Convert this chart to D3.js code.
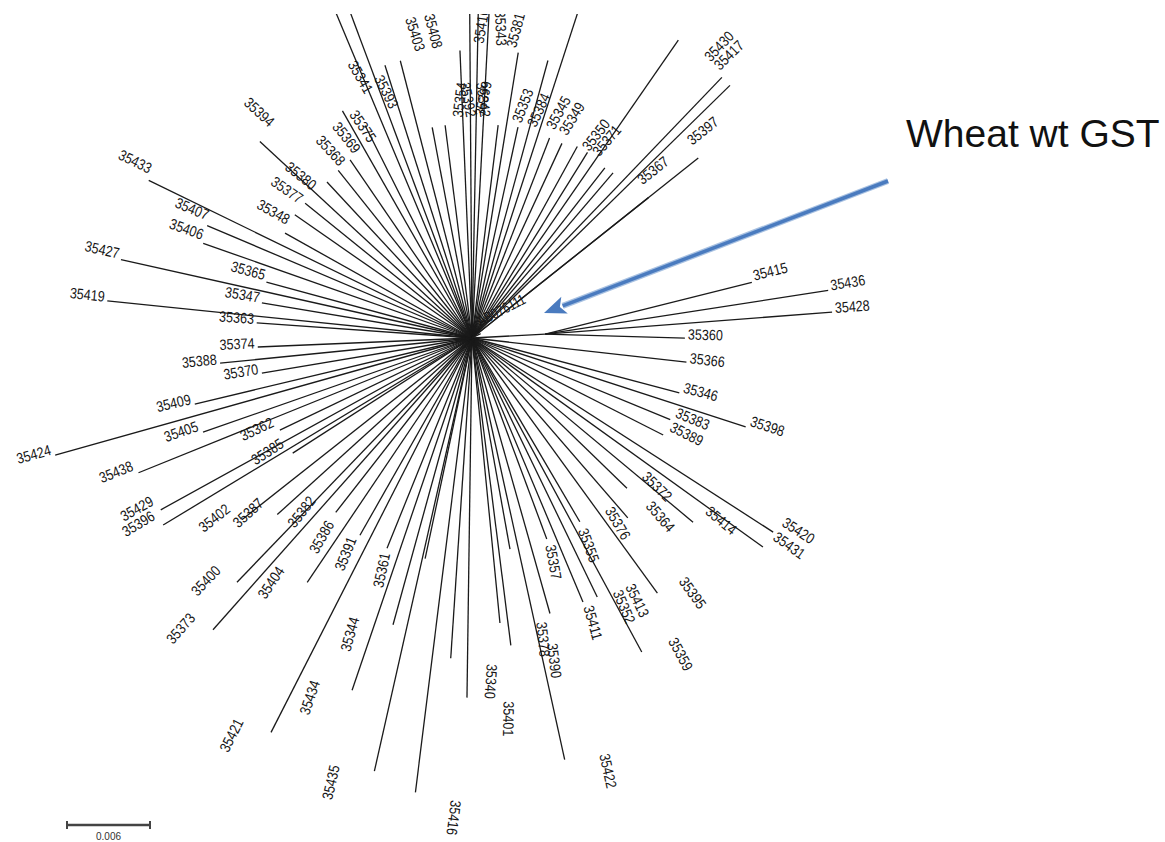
<!DOCTYPE html>
<html>
<head>
<meta charset="utf-8">
<script src="https://cdn.jsdelivr.net/npm/d3@7"></script>
<style>
  html, body { margin: 0; padding: 0; background: #fff; }
  svg { display: block; }
  .branch { stroke: #1a1a1a; stroke-width: 1.3; fill: none; stroke-linecap: butt; }
  .tip-label { font-family: "Liberation Sans", Arial, sans-serif; font-size: 15px; fill: #151515; }
</style>
</head>
<body>
<svg id="chart" width="1165" height="842"></svg>
<script>
// Unrooted GST tree, equal-angle layout.
// Each terminal branch: name, layout angle (degrees, clockwise from east),
// branch length (substitutions per site) and the node it hangs from.
const leafNames = [
  "35415","35436","35428","35360","35366","35346","35398","35383","35389","35420",
  "35431","35414","35372","35364","35395","35376","35359","35413","35352","35355",
  "35411","35422","35357","35378","35390","35401","35340","35416","35361","35435",
  "35344","35434","35391","35421","35386","35404","35382","35373","35400","35387",
  "35402","35385","35396","35429","35362","35438","35405","35424","35409","35370",
  "35388","35374","35363","35419","35347","35427","35365","35406","35407","35433",
  "35348","35377","35380","35394","35368","35369","35375","35341","35393","35426",
  "35412","35403","35408","35392","35342","35343","35418","35423","35425","35354",
  "35410","35399","35381","35437","35353","35384","35345","35349","35439","35350",
  "35371","35430","35417","35367","35397","AB076111"
];
const leafAngles = [
  -14.1, -8.8, -4.4, 1.6, 6.4, 14.8, 18.0, 22.4, 26.9, 32.8,
  35.7, 39.8, 44.1, 49.1, 54.0, 59.6, 61.6, 64.2, 67.2, 69.6,
  74.2, 77.6, 79.8, 84.4, 82.8, 90.8, 93.8, 97.1, 102.0, 102.7,
  105.4, 108.8, 112.0, 117.0, 119.6, 124.0, 128.0, 131.6, 133.9, 137.8,
  141.7, 147.3, 148.8, 151.1, 154.4, 158.0, 160.7, 164.3, 166.6, 170.5,
  174.3, 177.6, 184.0, 185.8, 189.5, 192.6, 195.2, 199.4, 203.0, 206.0,
  209.3, 214.8, 218.9, 222.8, 227.1, 231.4, 235.6, 240.3, 243.3, 247.3,
  249.5, 252.3, 255.5, 259.3, 262.8, 267.6, 269.6, 271.1, 273.0, 277.0,
  279.2, 282.3, 285.3, 288.0, 291.2, 294.8, 298.8, 301.9, 304.7, 308.0,
  310.5, 313.8, 315.6, 321.5, 321.5, 333.0
];
const leafLengths = [
  0.0154, 0.0207, 0.0208, 0.0101, 0.0156, 0.0155, 0.0208, 0.0155, 0.0155, 0.0259,
  0.0259, 0.0208, 0.0156, 0.0172, 0.0228, 0.0154, 0.0258, 0.0208, 0.0207, 0.0155,
  0.0207, 0.0312, 0.0155, 0.0207, 0.0224, 0.0260, 0.0232, 0.0331, 0.0163, 0.0321,
  0.0215, 0.0269, 0.0164, 0.0320, 0.0164, 0.0213, 0.0160, 0.0282, 0.0245, 0.0190,
  0.0212, 0.0154, 0.0261, 0.0257, 0.0154, 0.0260, 0.0206, 0.0313, 0.0206, 0.0154,
  0.0183, 0.0155, 0.0156, 0.0265, 0.0154, 0.0260, 0.0154, 0.0206, 0.0208, 0.0260,
  0.0155, 0.0156, 0.0155, 0.0209, 0.0154, 0.0155, 0.0156, 0.0189, 0.0172, 0.0304,
  0.0289, 0.0207, 0.0207, 0.0155, 0.0155, 0.0208, 0.0275, 0.0260, 0.0253, 0.0155,
  0.0209, 0.0156, 0.0208, 0.0289, 0.0155, 0.0155, 0.0158, 0.0158, 0.0262, 0.0156,
  0.0157, 0.0261, 0.0261, 0.0163, 0.0209, 0.0007
];
const leafParents = [
  "n1","n1","n1","n1"
].concat(d3.range(92).map(() => "root"));

// Internal node carrying the 35415 / 35436 / 35428 / 35360 clade
const nodeNames = ["n1"];
const nodeAngles = [-3];
const nodeLengths = [0.0053];

// Scale bar and call-out
const scaleBarValue = 0.006;
const calloutText = "Wheat wt GST";

const W = 1165, H = 842;
const cx = 472, cy = 338;          // root of the radial drawing
const cropTop = 14;                // the figure is cut just above its top edge
const svg = d3.select("#chart");

// branch length -> pixels
const len = d3.scaleLinear().domain([0, scaleBarValue]).range([0, 83]);
const rad = d => d * Math.PI / 180;
const norm = d => ((d + 180) % 360 + 360) % 360 - 180;

const pos = { root: [cx, cy] };
nodeNames.forEach((n, i) => {
  const a = rad(nodeAngles[i]), r = len(nodeLengths[i]);
  pos[n] = [cx + r * Math.cos(a), cy + r * Math.sin(a)];
});

const leaves = leafNames.map((name, i) => {
  const p = pos[leafParents[i]];
  const a = rad(leafAngles[i]), r = len(leafLengths[i]);
  const angle = norm(leafAngles[i]);
  const east = angle > -90 && angle <= 100;
  const s = Math.sin(a);
  const drift = 38 * s * s;             // labels slide off near-vertical branches
  const x1 = p[0] + r * Math.cos(a), y1 = p[1] + r * Math.sin(a);
  // approximate centre of the label, used to skip labels cut away by the crop
  const ny = east ? -Math.cos(a) : Math.cos(a);
  const lcy = y1 + 20 * Math.sin(a) + (3.5 + drift) * ny;
  return { name, angle, east, drift, x0: p[0], y0: p[1], x1, y1, labelY: lcy };
});

svg.append("defs").append("clipPath").attr("id", "crop")
  .append("rect").attr("x", 0).attr("y", cropTop).attr("width", W).attr("height", H - cropTop);

const tree = svg.append("g").attr("clip-path", "url(#crop)");

// internal branches
tree.append("g").selectAll("line").data(nodeNames).join("line")
  .attr("class", "branch")
  .attr("x1", cx).attr("y1", cy)
  .attr("x2", n => pos[n][0]).attr("y2", n => pos[n][1]);

// terminal branches
tree.append("g").selectAll("line").data(leaves).join("line")
  .attr("class", "branch")
  .attr("x1", d => d.x0).attr("y1", d => d.y0)
  .attr("x2", d => d.x1).attr("y2", d => d.y1);

// tip labels: follow the branch, flipped on the western side so they read
// left to right
tree.append("g").selectAll("text").data(leaves.filter(d => d.labelY > cropTop + 6)).join("text")
  .attr("class", "tip-label")
  .attr("transform", d => `translate(${d.x1},${d.y1}) rotate(${d.east ? d.angle : d.angle - 180})`)
  .attr("x", d => d.east ? 3 : -3)
  .attr("y", d => 1.4 - d.drift)
  .attr("text-anchor", d => d.east ? "start" : "end")
  .attr("textLength", d => d.name.length > 5 ? 52 : 35)
  .attr("lengthAdjust", "spacingAndGlyphs")
  .text(d => d.name);

// call-out arrow pointing at the wheat wild-type GST
const from = [888, 181], to = [544, 313];
const dx = to[0] - from[0], dy = to[1] - from[1];
const L = Math.hypot(dx, dy), ux = dx / L, uy = dy / L;
const headLen = 22, headHalf = 9;
const base = [to[0] - ux * headLen, to[1] - uy * headLen];
const arrowColor = "#4a7bbf";
const ann = svg.append("g").attr("class", "callout");
ann.append("line")
  .attr("x1", from[0]).attr("y1", from[1])
  .attr("x2", base[0] + ux * 2).attr("y2", base[1] + uy * 2)
  .attr("stroke", "#a9c2e2").attr("stroke-width", 6);
ann.append("line")
  .attr("x1", from[0]).attr("y1", from[1])
  .attr("x2", base[0] + ux * 2).attr("y2", base[1] + uy * 2)
  .attr("stroke", arrowColor).attr("stroke-width", 3.5);
ann.append("path")
  .attr("d", d3.line()([
    to,
    [base[0] - uy * headHalf, base[1] + ux * headHalf],
    [base[0] + ux * 5, base[1] + uy * 5],
    [base[0] + uy * headHalf, base[1] - ux * headHalf]
  ]) + "Z")
  .attr("fill", arrowColor);
ann.append("text")
  .attr("x", 906).attr("y", 147)
  .attr("font-family", "Liberation Sans, Arial, sans-serif")
  .attr("font-size", 39)
  .attr("fill", "#111")
  .text(calloutText);

// scale bar
const sb = svg.append("g").attr("transform", "translate(67,825)");
const sbLen = len(scaleBarValue);
sb.append("line").attr("x1", 0).attr("x2", sbLen).attr("y1", 0).attr("y2", 0)
  .attr("stroke", "#444").attr("stroke-width", 2.4);
sb.selectAll("line.tick").data([0, sbLen]).join("line").attr("class", "tick")
  .attr("x1", d => d).attr("x2", d => d).attr("y1", -4).attr("y2", 4)
  .attr("stroke", "#444").attr("stroke-width", 2);
sb.append("text").attr("x", sbLen / 2).attr("y", 15)
  .attr("text-anchor", "middle")
  .attr("font-family", "Liberation Sans, Arial, sans-serif")
  .attr("font-size", 10).attr("fill", "#333")
  .text(d3.format(".3f")(scaleBarValue));
</script>
</body>
</html>
